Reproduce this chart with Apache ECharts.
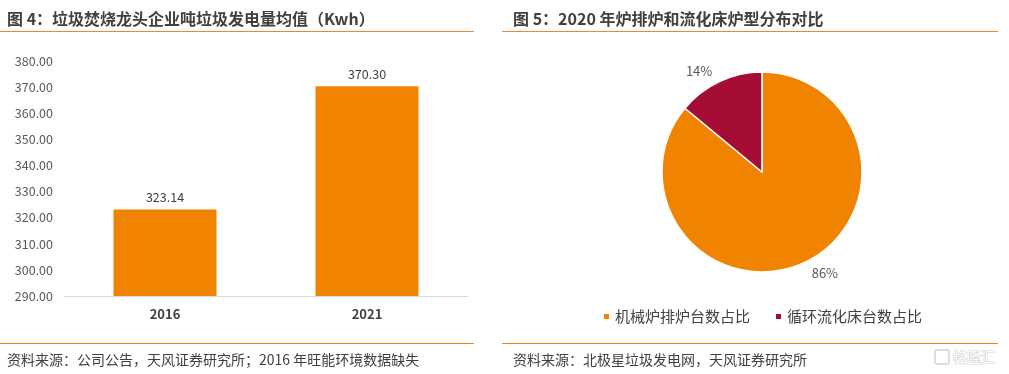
<!DOCTYPE html>
<html><head><meta charset="utf-8">
<script src="https://cdn.jsdelivr.net/npm/echarts@6/dist/echarts.min.js"></script>
<style>html,body{margin:0;padding:0;background:#fff}#c{width:1009px;height:374px}</style>
</head><body><div id="c"></div>
<script>
const barCategories = ['2016', '2021'];
const barValues = [323.14, 370.30];
const yMin = 290, yMax = 380, yStep = 10;
const pieNames = ['机械炉排炉台数占比', '循环流化床台数占比'];
const pieValues = [86, 14];

const FONT = '"Noto Sans CJK SC", "Microsoft YaHei", sans-serif';
const ORANGE = '#F08300';
const RED = '#A50D35';
const LINE = '#E8883A';
const TXT = '#404040';

const chart = echarts.init(document.getElementById('c'), null, {renderer: 'canvas'});
chart.setOption({
  animation: false,
  backgroundColor: '#fff',
  title: [
    {text: '图 4：垃圾焚烧龙头企业吨垃圾发电量均值（Kwh）', left: 2, top: 6,
     textStyle: {fontFamily: FONT, fontSize: 16, fontWeight: 'bold', color: TXT}},
    {text: '图 5：2020 年炉排炉和流化床炉型分布对比', left: 508, top: 6,
     textStyle: {fontFamily: FONT, fontSize: 16, fontWeight: 'bold', color: TXT}},
    {text: '资料来源：公司公告，天风证券研究所；2016 年旺能环境数据缺失', left: 2, top: 348,
     textStyle: {fontFamily: FONT, fontSize: 14, fontWeight: 'normal', color: TXT}},
    {text: '资料来源：北极星垃圾发电网，天风证券研究所', left: 508, top: 348,
     textStyle: {fontFamily: FONT, fontSize: 14, fontWeight: 'normal', color: TXT}}
  ],
  graphic: [
    {type: 'line', shape: {x1: 0, y1: 31.5, x2: 474, y2: 31.5}, style: {stroke: LINE, lineWidth: 1}},
    {type: 'line', shape: {x1: 502, y1: 31.5, x2: 998, y2: 31.5}, style: {stroke: LINE, lineWidth: 1}},
    {type: 'line', shape: {x1: 0, y1: 343.5, x2: 474, y2: 343.5}, style: {stroke: '#F08300', lineWidth: 1}},
    {type: 'line', shape: {x1: 502, y1: 343.5, x2: 998, y2: 343.5}, style: {stroke: '#F08300', lineWidth: 1}},
    {type: 'rect', shape: {x: 935, y: 350, width: 14, height: 14, r: 2},
     style: {fill: 'none', stroke: '#d4d4d4', lineWidth: 1.5}},
    {type: 'text', style: {x: 953, y: 357, text: '格隆汇', font: '14px ' + FONT,
     fill: '#fff', stroke: '#cfcfcf', lineWidth: 1, verticalAlign: 'middle'}}
  ],
  grid: {left: 64, right: 1009 - 468, top: 61, bottom: 374 - 296, containLabel: false},
  xAxis: {
    type: 'category', data: barCategories,
    axisLine: {lineStyle: {color: '#D9D9D9'}}, axisTick: {show: false},
    axisLabel: {fontFamily: FONT, fontSize: 13, fontWeight: 'bold', color: TXT, margin: 12}
  },
  yAxis: {
    type: 'value', min: yMin, max: yMax, interval: yStep,
    splitLine: {show: false}, axisLine: {show: false}, axisTick: {show: false},
    axisLabel: {fontFamily: FONT, fontSize: 12.5, color: '#595959', margin: 11,
      formatter: v => v.toFixed(2)}
  },
  legend: {
    data: pieNames, left: 597, top: 304, itemWidth: 7, itemHeight: 7, itemGap: 24,
    icon: 'rect',
    textStyle: {fontFamily: FONT, fontSize: 15, color: TXT, padding: [0, 0, 0, 0]}
  },
  series: [
    {
      type: 'bar', data: barValues, barWidth: 103, itemStyle: {color: ORANGE},
      label: {show: true, position: 'top', distance: 6, fontFamily: FONT, fontSize: 12.5, color: TXT,
        formatter: p => p.value.toFixed(2)}
    },
    {
      type: 'pie', center: [762, 172], radius: 100, startAngle: 90, clockwise: true,
      data: pieNames.map((n, i) => ({name: n, value: pieValues[i]})),
      color: [ORANGE, RED],
      itemStyle: {borderColor: '#fff', borderWidth: 1.5},
      label: {show: true, position: 'outside', fontFamily: FONT, fontSize: 13, color: '#595959',
        formatter: p => p.value + '%', distanceToLabelLine: 0},
      labelLine: {show: false, length: 12, length2: 2}
    }
  ]
});
</script></body></html>
